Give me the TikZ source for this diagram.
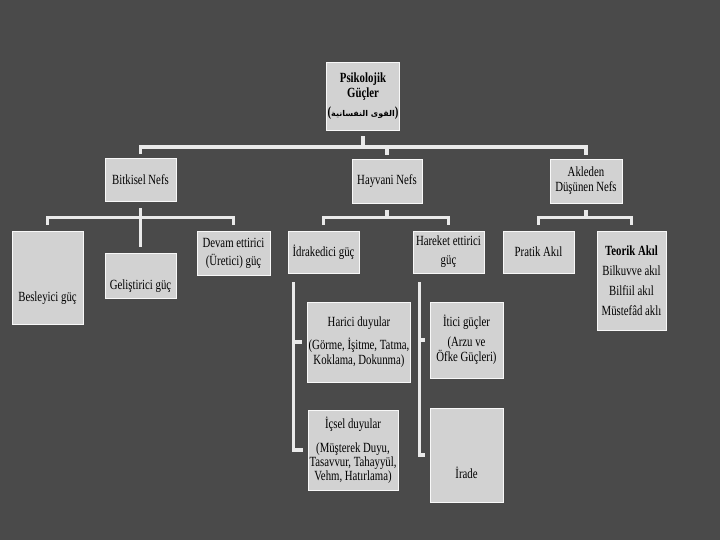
\documentclass[tikz,border=0pt]{standalone}
\usepackage{fontspec}
\setmainfont{Liberation Serif}[FakeStretch=0.77]
\newfontfamily\arabicfont[Script=Arabic]{DejaVu Sans}
\TeXXeTstate=1
\usepackage{tikz}
\usetikzlibrary{positioning,calc}
\definecolor{slate}{HTML}{4A4A4A}
\definecolor{boxgray}{HTML}{D2D2D2}
\definecolor{linegray}{HTML}{EAEAEA}
\tikzset{
  box/.style={fill=boxgray, draw=white!85!boxgray, line width=0.8pt, align=center,
    inner xsep=1pt, inner ysep=2pt, font=\fontsize{14}{15}\selectfont},
  conn/.style={draw=linegray, line width=3.5pt},
}

\begin{document}
\begin{tikzpicture}[x=1pt,y=-1pt]
\fill[slate] (0,0) rectangle (720,540);

\node[box, minimum width=66, minimum height=68] (root) at (363,96)
  {\textbf{Psikolojik}\\\textbf{Güçler}\\[4pt]\textbf{(}{\arabicfont\fontsize{8}{10}\selectfont\bfseries\beginR القوى النفسانية\endR}\textbf{)}};

\node[box, minimum width=71, minimum height=43] (bitki) at (140.5,179.5) {Bitkisel Nefs};
\node[box, minimum width=70, minimum height=44] (hayvani) at (387,181) {Hayvani Nefs};
\node[box, minimum width=72, minimum height=44] (akil) at (586,181) {Akleden\\Düşünen Nefs};

\node[box, minimum width=71, minimum height=93] (besley) at (47.5,277.5) {\raisebox{-51pt}{Besleyici güç}};
\node[box, minimum width=71, minimum height=45] (gelis) at (140.5,275.5) {\raisebox{-32pt}{Geliştirici güç}};
\node[box, minimum width=73, minimum height=44] (devam) at (233.5,253) {Devam ettirici\\[3pt](Üretici) güç};
\node[box, minimum width=71, minimum height=42] (idrak) at (323.5,252) {İdrakedici güç};
\node[box, minimum width=71, minimum height=42] (hareket) at (448.5,252) {Hareket ettirici\\[4pt]güç};
\node[box, minimum width=71, minimum height=42] (pratik) at (538.5,252) {Pratik Akıl};
\node[box, minimum width=69, minimum height=99] (teorik) at (631.5,280.5)
  {\textbf{Teorik Akıl}\\[5pt]Bilkuvve akıl\\[5pt]Bilfiil akıl\\[5pt]Müstefâd aklı};

\node[box, minimum width=102, minimum height=80] (harici) at (359,342)
  {Harici duyular\\[8pt](Görme, İşitme, Tatma,\\Koklama, Dokunma)};
\node[box, minimum width=90, minimum height=80, font=\fontsize{14}{14}\selectfont] (icsel) at (353,450)
  {İçsel duyular\\[10pt](Müşterek Duyu,\\Tasavvur, Tahayyül,\\Vehm, Hatırlama)};
\node[box, minimum width=73, minimum height=76] (itici) at (466.5,340)
  {İtici güçler\\[5pt](Arzu ve\\Öfke Güçleri)};
\node[box, minimum width=73, minimum height=94] (irade) at (466.5,455) {\raisebox{-48pt}{İrade}};

% first level
\coordinate (top) at (363,147);
\draw[conn, shorten <=6pt] (root.south) -- (top);
\draw[conn, shorten <=4pt, shorten >=4pt] (bitki.north) |- (top) -| (akil.north);
\draw[conn, shorten >=4pt] (hayvani.north |- top) -- (hayvani.north);

% second level
\coordinate (bbar) at ($(bitki.south)+(0,16)$);
\coordinate (hbar) at ($(hayvani.south)+(0,14)$);
\coordinate (abar) at ($(akil.south)+(0,14)$);
\draw[conn, shorten <=7pt, shorten >=6pt] (bitki.south) -- (gelis.north);
\draw[conn, shorten <=6pt, shorten >=6pt] (besley.north) |- (bbar) -| (devam.north);
\draw[conn, shorten <=7pt] (hayvani.south) -- (hbar);
\draw[conn, shorten <=6pt, shorten >=6pt] (idrak.north) |- (hbar) -| (hareket.north);
\draw[conn, shorten <=7pt] (akil.south) -- (abar);
\draw[conn, shorten <=6pt, shorten >=6pt] (pratik.north) |- (abar) -| (teorik.north);

% third level
\coordinate (ileft) at ($(idrak.south west)+(6,0)$);
\coordinate (hleft) at ($(hareket.south west)+(7,0)$);
\draw[conn, shorten <=9pt, shorten >=5pt] (ileft) |- (icsel.west);
\draw[conn, shorten >=5pt] (ileft |- harici.west) -- (harici.west);
\draw[conn, shorten <=9pt, shorten >=5pt] (hleft) |- (irade.west);
\draw[conn, shorten >=5pt] (hleft |- itici.west) -- (itici.west);
\end{tikzpicture}
\end{document}
